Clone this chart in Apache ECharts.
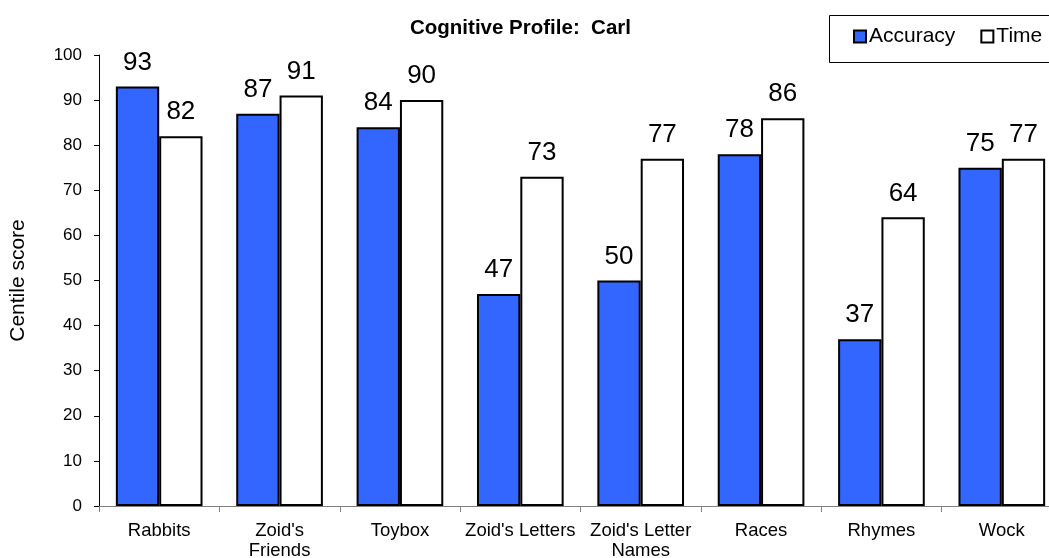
<!DOCTYPE html>
<html>
<head>
<meta charset="utf-8">
<script src="https://cdn.jsdelivr.net/npm/echarts@6/dist/echarts.min.js"></script>
<style>
  html, body { margin: 0; padding: 0; background: #fff; }
  #chart { width: 1049px; height: 558px; }
</style>
</head>
<body>
<div id="chart"></div>
<script>
// Subtest names on the x axis
const categories = ['Rabbits', "Zoid's\nFriends", 'Toybox', "Zoid's Letters", "Zoid's Letter\nNames", 'Races', 'Rhymes', 'Wock'];
// Centile scores per subtest
const accuracy = [93, 87, 84, 47, 50, 78, 37, 75];
const time = [82, 91, 90, 73, 77, 86, 64, 77];
// Y axis range
const yTicks = { min: 0, max: 100, step: 10 };

const FONT = '"Liberation Sans", Arial, sans-serif';

const chart = echarts.init(document.getElementById('chart'), null, { renderer: 'canvas' });

const labelStyle = {
  show: true,
  position: 'top',
  distance: 11,
  fontFamily: FONT,
  fontSize: 26,
  color: '#000'
};

chart.setOption({
  animation: false,
  backgroundColor: '#fff',
  title: {
    text: 'Cognitive Profile:  Carl',
    left: 405,
    top: 13,
    textStyle: { fontFamily: FONT, fontSize: 20.5, fontWeight: 'bold', color: '#000' }
  },
  // legend frame runs past the right edge of the canvas
  graphic: [{
    type: 'rect',
    left: 827,
    top: 13,
    shape: { width: 260, height: 47 },
    style: { fill: 'none', stroke: '#000', lineWidth: 1 },
    silent: true
  }],
  legend: {
    left: 853,
    top: 26,
    width: 240,
    orient: 'horizontal',
    padding: 0,
    itemGap: 25,
    itemWidth: 12,
    itemHeight: 12,
    icon: 'rect',
    textStyle: { fontFamily: FONT, fontSize: 21, color: '#000', padding: [0, 0, 0, -2] },
    data: ['Accuracy', 'Time']
  },
  grid: { left: 99, right: -13, top: 55, bottom: 52, containLabel: false, outerBoundsMode: 'none' },
  xAxis: {
    type: 'category',
    data: categories,
    axisLine: { lineStyle: { color: '#808080', width: 1 } },
    axisTick: { show: true, length: 6, lineStyle: { color: '#808080' } },
    axisLabel: {
      fontFamily: FONT,
      fontSize: 18.5,
      color: '#000',
      margin: 15,
      lineHeight: 20,
      interval: 0
    }
  },
  yAxis: {
    type: 'value',
    min: yTicks.min,
    max: yTicks.max,
    interval: yTicks.step,
    name: 'Centile score',
    nameLocation: 'middle',
    nameGap: 70,
    nameRotate: 90,
    nameTextStyle: { fontFamily: FONT, fontSize: 21, color: '#000' },
    axisLine: { show: true, lineStyle: { color: '#000', width: 1 } },
    axisTick: { show: true, length: 5, lineStyle: { color: '#000' } },
    axisLabel: { fontFamily: FONT, fontSize: 17, color: '#000', margin: 17 },
    splitLine: { show: false }
  },
  series: [
    {
      name: 'Accuracy',
      type: 'bar',
      data: accuracy,
      barGap: '0%',
      barCategoryGap: '28%',
      itemStyle: { color: '#3366FF', borderColor: '#000', borderWidth: 2 },
      label: labelStyle
    },
    {
      name: 'Time',
      type: 'bar',
      data: time,
      itemStyle: { color: '#FFFFFF', borderColor: '#000', borderWidth: 2 },
      label: labelStyle
    }
  ]
});
</script>
</body>
</html>
